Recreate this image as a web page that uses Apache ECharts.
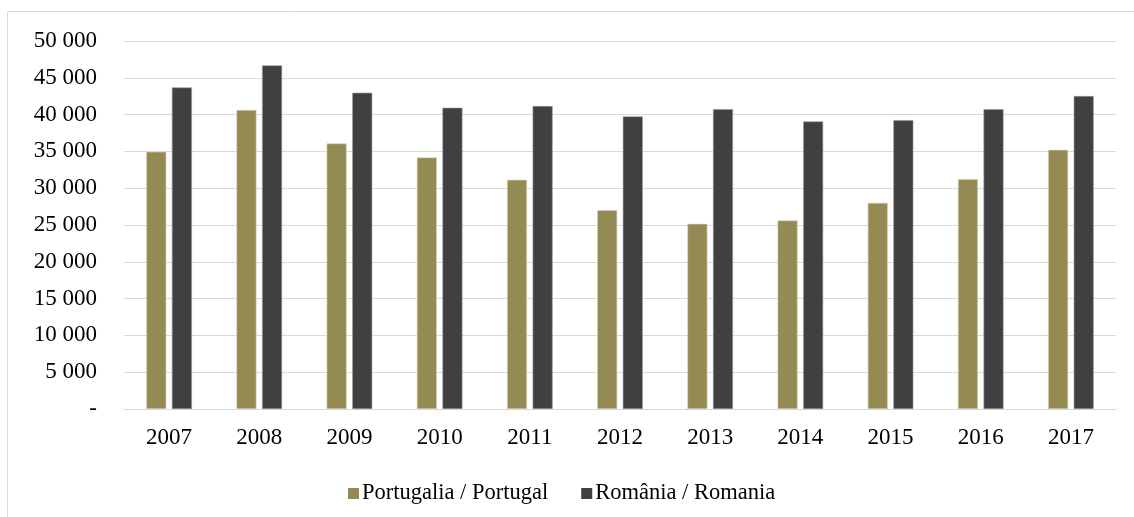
<!DOCTYPE html>
<html>
<head>
<meta charset="utf-8">
<script src="https://cdn.jsdelivr.net/npm/echarts@6/dist/echarts.min.js"></script>
<style>
html, body { margin: 0; padding: 0; background: #fff; }
#chart_1 { width: 1134px; height: 517px; }
</style>
</head>
<body>
<div id="chart_1"></div>
<script>
var years = ['2007', '2008', '2009', '2010', '2011', '2012', '2013', '2014', '2015', '2016', '2017'];
var portugal = [34950, 40620, 36080, 34170, 31140, 27020, 25160, 25610, 28010, 31230, 35220];
var romania = [43690, 46690, 42970, 40930, 41160, 39750, 40750, 39070, 39250, 40750, 42520];
var seriesNames = ['Portugalia / Portugal', 'România / Romania'];

function fmt(v) {
    if (v === 0) return '-';
    return String(v).replace(/\B(?=(\d{3})+(?!\d))/g, ' ');
}

var chart_1 = echarts.init(document.getElementById('chart_1'));
var font = '"Liberation Serif", "Times New Roman", serif';
var option = {
    animation: false,
    textStyle: { fontFamily: font },
    graphic: [{
        type: 'rect',
        shape: { x: 7.5, y: 11.5, width: 1140, height: 520 },
        style: { fill: 'none', stroke: '#d9d9d9', lineWidth: 1 },
        silent: true
    }],
    grid: {
        left: 124,
        right: 18,
        top: 41,
        bottom: 108
    },
    legend: {
        data: seriesNames,
        top: 477,
        left: 343,
        itemWidth: 11,
        itemHeight: 11,
        itemGap: 33,
        icon: 'rect',
        itemStyle: { borderWidth: 0 },
        textStyle: { fontFamily: font, fontSize: 22.5, color: '#000', padding: [0, 0, 0, -2] }
    },
    xAxis: [{
        type: 'category',
        data: years,
        axisLine: { lineStyle: { color: '#d9d9d9', width: 1 } },
        axisTick: { show: false },
        axisLabel: { color: '#000', fontSize: 23, fontFamily: font, margin: 17 }
    }],
    yAxis: [{
        type: 'value',
        min: 0,
        max: 50000,
        interval: 5000,
        axisLine: { show: false },
        axisTick: { show: false },
        splitLine: { lineStyle: { color: '#d9d9d9', width: 1 } },
        axisLabel: {
            color: '#000',
            fontSize: 23,
            fontFamily: font,
            margin: 27,
            formatter: fmt
        }
    }],
    series: [{
        name: seriesNames[0],
        type: 'bar',
        data: portugal,
        barWidth: 20,
        barGap: '28%',
        itemStyle: { color: '#948a54', borderColor: '#d8d3b8', borderWidth: 0.6 }
    }, {
        name: seriesNames[1],
        type: 'bar',
        data: romania,
        barWidth: 20,
        itemStyle: { color: '#404040', borderColor: '#9a9a9a', borderWidth: 0.6 }
    }]
};
chart_1.setOption(option);
</script>
</body>
</html>
